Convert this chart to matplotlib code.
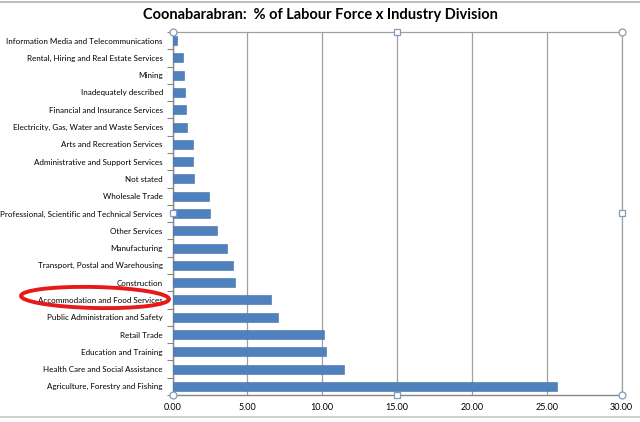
import matplotlib
matplotlib.use("Agg")
import matplotlib.pyplot as plt
from matplotlib.patches import Ellipse
import numpy as np

categories = [
    "Agriculture, Forestry and Fishing",
    "Health Care and Social Assistance",
    "Education and Training",
    "Retail Trade",
    "Public Administration and Safety",
    "Accommodation and Food Services",
    "Construction",
    "Transport, Postal and Warehousing",
    "Manufacturing",
    "Other Services",
    "Professional, Scientific and Technical Services",
    "Wholesale Trade",
    "Not stated",
    "Administrative and Support Services",
    "Arts and Recreation Services",
    "Electricity, Gas, Water and Waste Services",
    "Financial and Insurance Services",
    "Inadequately described",
    "Mining",
    "Rental, Hiring and Real Estate Services",
    "Information Media and Telecommunications",
]
values = [25.69, 11.47, 10.27, 10.11, 7.06, 6.57, 4.17, 4.01, 3.62, 2.97,
          2.53, 2.43, 1.44, 1.39, 1.39, 0.98, 0.93, 0.84, 0.76, 0.68, 0.30]
xticks = [0, 5, 10, 15, 20, 25, 30]

plt.rcParams['font.family'] = ['Lato', 'DejaVu Sans']

fig = plt.figure(figsize=(6.4, 4.22), dpi=100)
W, H = 640, 422
left, right, top, bottom = 172.5, 621.7, 32, 395
ax = fig.add_axes([left / W, 1 - bottom / H, (right - left) / W, (bottom - top) / H])

y = np.arange(len(categories))
ax.barh(y, values, height=0.52, color="#4F81BD", edgecolor="#3F6FA8", linewidth=0.4, zorder=3)
ax.set_xlim(0, 30)
ax.set_ylim(-0.5, len(categories) - 0.5)
ax.set_xticks(xticks)
ax.set_xticklabels([f"{v:.2f}" for v in xticks], fontsize=6.5)
ax.set_yticks(y)
ax.set_yticklabels(categories, fontsize=5.8)
ax.set_yticks(np.arange(-0.5, len(categories), 1), minor=True)
ax.tick_params(axis="y", which="major", length=0, pad=7)
ax.tick_params(axis="y", which="minor", length=4, color="#868686", width=0.8, direction="out")
ax.tick_params(axis="x", length=0, pad=6)
ax.grid(axis="x", color="#A0A0A0", linewidth=0.9, zorder=0)
for s in ["top", "right"]:
    ax.spines[s].set_color("#A0A0A0")
    ax.spines[s].set_linewidth(0.9)
for s in ["left", "bottom"]:
    ax.spines[s].set_color("#868686")
    ax.spines[s].set_linewidth(1.0)

# Excel selection handles
hx = [0, 15, 30, 0, 30, 0, 15, 30]
hy = [1, 1, 1, 0.5, 0.5, 0, 0, 0]
hm = ["o", "s", "o", "s", "s", "o", "s", "o"]
trans = ax.get_xaxis_transform()
for xx, yy, m in zip(hx, hy, hm):
    ax.plot(xx, yy, marker=m, markersize=5 if m == "o" else 4.5, markerfacecolor="white",
            markeredgecolor="#7F9DB9", markeredgewidth=0.9, transform=trans,
            clip_on=False, zorder=5)

fig.text(0.5, 1 - 15 / H, "Coonabarabran:  % of Labour Force x Industry Division",
         ha="center", va="center", fontsize=10.5, fontweight="bold")

# red hand-drawn ellipse around highlighted label
ell = Ellipse((95 / W, 1 - 297.5 / H), 148 / W, 21 / H, transform=fig.transFigure,
              fill=False, edgecolor="#E8191A", linewidth=2.8, angle=-2)
fig.patches.append(ell)

# screenshot borders
fig.add_artist(plt.Line2D([0, 1], [1 - 2 / H, 1 - 2 / H], color="#B0B0B0", linewidth=1.2))
fig.add_artist(plt.Line2D([0, 1], [1 - 417 / H, 1 - 417 / H], color="#C8C8C8", linewidth=1.2))

fig.savefig("out.png", dpi=100)
